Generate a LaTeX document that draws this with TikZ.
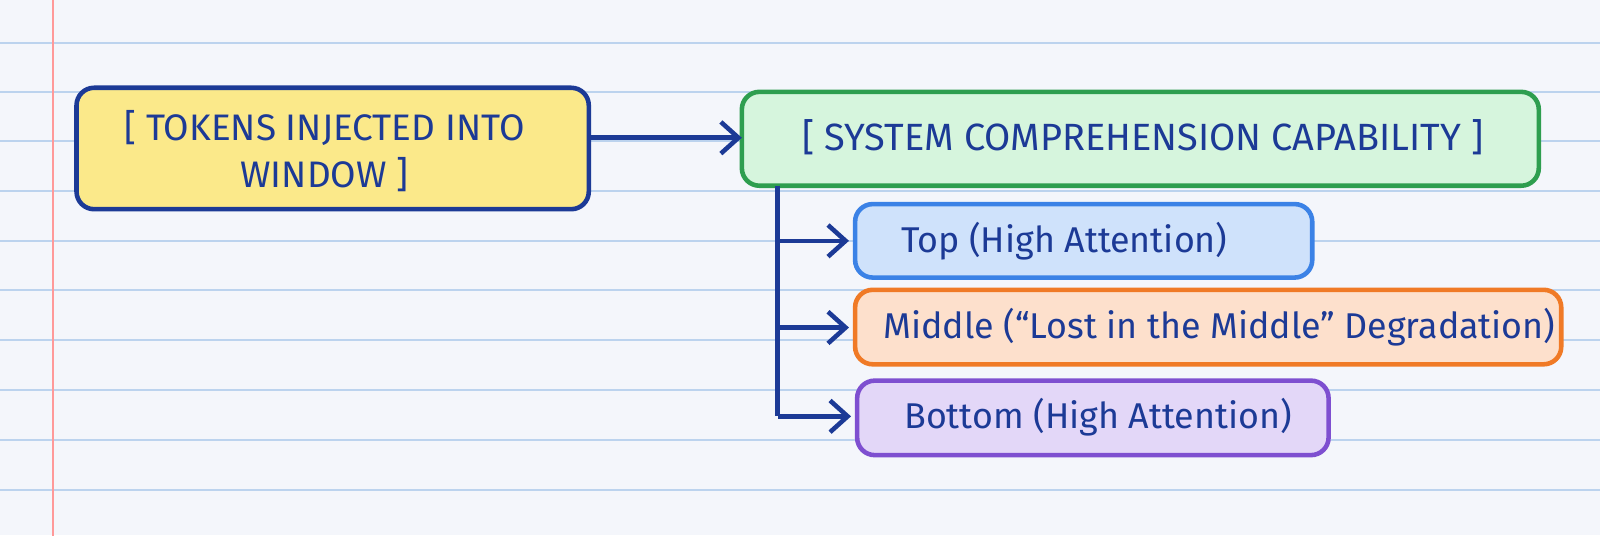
\documentclass[tikz,border=0pt]{standalone}
\usepackage{fontspec}
\setmainfont{Fira Sans}
\usetikzlibrary{arrows.meta}
\definecolor{ink}{HTML}{1C3A96}
\definecolor{paper}{HTML}{F4F6FB}
\definecolor{rule}{HTML}{BCD3EE}
\definecolor{yf}{HTML}{FBE98A}
\definecolor{gf}{HTML}{D6F5DD}\definecolor{gd}{HTML}{2E9E4F}
\definecolor{bf}{HTML}{CFE2FB}\definecolor{bd}{HTML}{3B82E6}
\definecolor{of}{HTML}{FDE0CC}\definecolor{od}{HTML}{F07A26}
\definecolor{pf}{HTML}{E3D7F8}\definecolor{pd}{HTML}{7E4FD0}
\begin{document}
\begin{tikzpicture}[x=0.010204cm,y=-0.010204cm,
 box/.style={draw=#1,line width=1.3pt,rounded corners=5pt,inner sep=0},
 txt/.style={text=ink,font=\fontsize{10.2}{12}\selectfont,align=center},
 arr/.style={draw=ink,line width=1.3pt,-{Straight Barb[length=5pt,width=9pt]}}]
\useasboundingbox (0,0) rectangle (1568,524.3);
\clip (0,0) rectangle (1568,524.3);
\fill[paper] (0,0) rectangle (1568,524.3);
\foreach \y in {42,90,138,187,236,284,333,382,431,480} \draw[rule,line width=0.6pt] (0,\y)--(1568,\y);
\draw[red!40,line width=0.8pt] (52,0)--(52,525);
\filldraw[box=ink,fill=yf] (75,86) rectangle (577,205);
\node[txt,font=\fontsize{10.5}{13.5}\selectfont] (a) at (318,148) {[ TOKENS INJECTED INTO\\WINDOW ]};
\filldraw[box=gd,fill=gf] (727,90) rectangle (1508,182);
\node[txt,font=\fontsize{10.8}{13}\selectfont] (b) at (1120,134) {[ SYSTEM COMPREHENSION CAPABILITY ]};
\filldraw[box=bd,fill=bf] (838,200) rectangle (1286,272);
\node[txt] (c) at (1043,236) {Top (High Attention)};
\filldraw[box=od,fill=of] (838,284) rectangle (1530,357);
\node[txt] (d) at (1195,321) {Middle (“Lost in the Middle” Degradation)};
\filldraw[box=pd,fill=pf] (840,373) rectangle (1302,446);
\node[txt] (e) at (1076,409) {Bottom (High Attention)};
\coordinate (s) at (577,135); \coordinate (t) at (727,135);
\draw[arr] (s)--(t);
\draw[ink,line width=1.3pt] (762,182)--(762,408);
\coordinate (c0) at (762,236); \coordinate (c1) at (832,236);
\coordinate (d0) at (762,321); \coordinate (d1) at (832,321);
\coordinate (e0) at (762,408); \coordinate (e1) at (834,408);
\draw[arr] (c0)--(c1); \draw[arr] (d0)--(d1); \draw[arr] (e0)--(e1);
\end{tikzpicture}
\end{document}
